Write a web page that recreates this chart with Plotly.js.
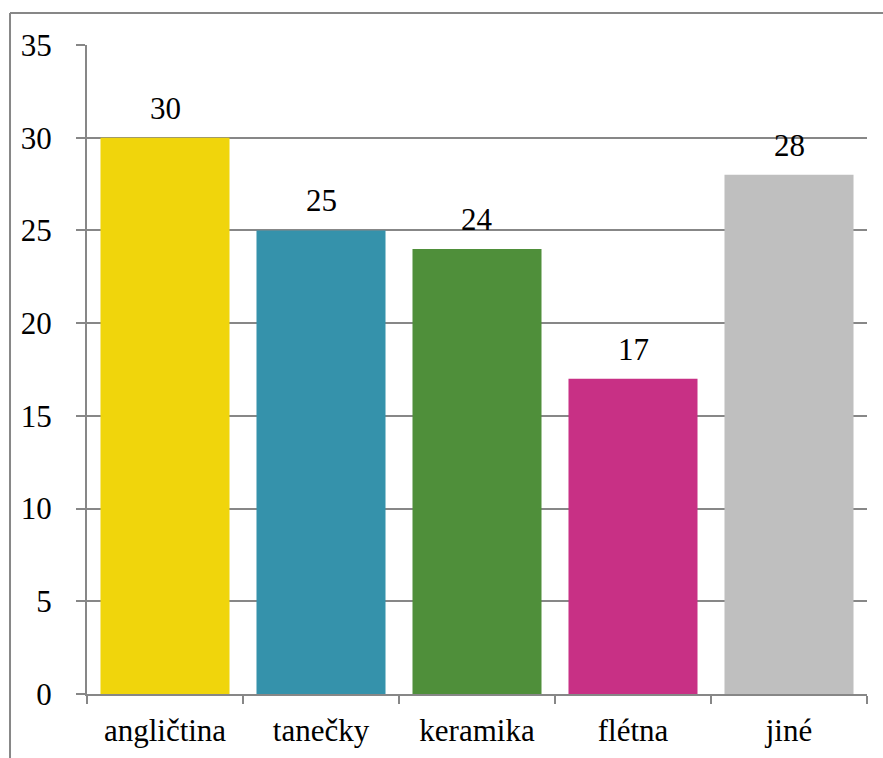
<!DOCTYPE html>
<html><head><meta charset="utf-8">
<script src="https://cdn.plot.ly/plotly-3.0.1.min.js"></script>
<style>
html,body{margin:0;padding:0;background:#fff}
#chart svg text{font-family:'Liberation Serif','Times New Roman',serif !important;}
</style>
</head><body>
<div id="chart" style="width:883px;height:758px"></div>
<script>
const categories = ["angličtina", "tanečky", "keramika", "flétna", "jiné"];
const values = [30, 25, 24, 17, 28];
const barColors = ["#F0D50C", "#3592AB", "#4F8F3A", "#C83085", "#BFBFBF"];
const yTicks = [0, 5, 10, 15, 20, 25, 30, 35];

const FAMILY = "Liberation Serif";
const trace = {
  type: "bar", x: categories, y: values,
  marker: {color: barColors}, hoverinfo: "none"
};
const annotations = categories.map((c, i) => ({
  x: c, y: values[i], xref: "x", yref: "y", text: String(values[i]),
  showarrow: false, yanchor: "bottom", yshift: 10,
  font: {family: FAMILY, size: 31, color: "#000000"}
}));
const layout = {
  width: 883, height: 758,
  margin: {l: 87, r: 16, t: 45, b: 64},
  paper_bgcolor: "#ffffff", plot_bgcolor: "#ffffff",
  font: {family: FAMILY, size: 31, color: "#000000"}, showlegend: false, bargap: 0.173,
  xaxis: {
    type: "category", tickson: "boundaries", ticks: "outside", ticklen: 8, tickwidth: 2, tickcolor: "#878787",
    showline: true, linecolor: "#878787", linewidth: 2, showgrid: false,
    tickfont: {family: FAMILY, size: 31, color: "#000000"}, ticklabelstandoff: 8
  },
  yaxis: {
    range: [0, 35], tickvals: yTicks, ticktext: yTicks.map(String),
    ticks: "outside", ticklen: 9, tickwidth: 2, tickcolor: "#878787",
    showline: true, linecolor: "#878787", linewidth: 2,
    showgrid: true, gridcolor: "#878787", gridwidth: 2, zeroline: false,
    tickfont: {family: FAMILY, size: 31, color: "#000000"}, ticklabelstandoff: 18
  },
  annotations: annotations,
  shapes: [
    {type: "line", xref: "paper", yref: "paper", x0: -0.0987, x1: -0.0987, y0: -0.2, y1: 1.0493, line: {color: "#878787", width: 2}},
    {type: "line", xref: "paper", yref: "paper", x0: -0.0987, x1: 1.05, y0: 1.0493, y1: 1.0493, line: {color: "#878787", width: 2}}
  ]
};
Plotly.newPlot("chart", [trace], layout, {displayModeBar: false, staticPlot: true});
</script></body></html>
